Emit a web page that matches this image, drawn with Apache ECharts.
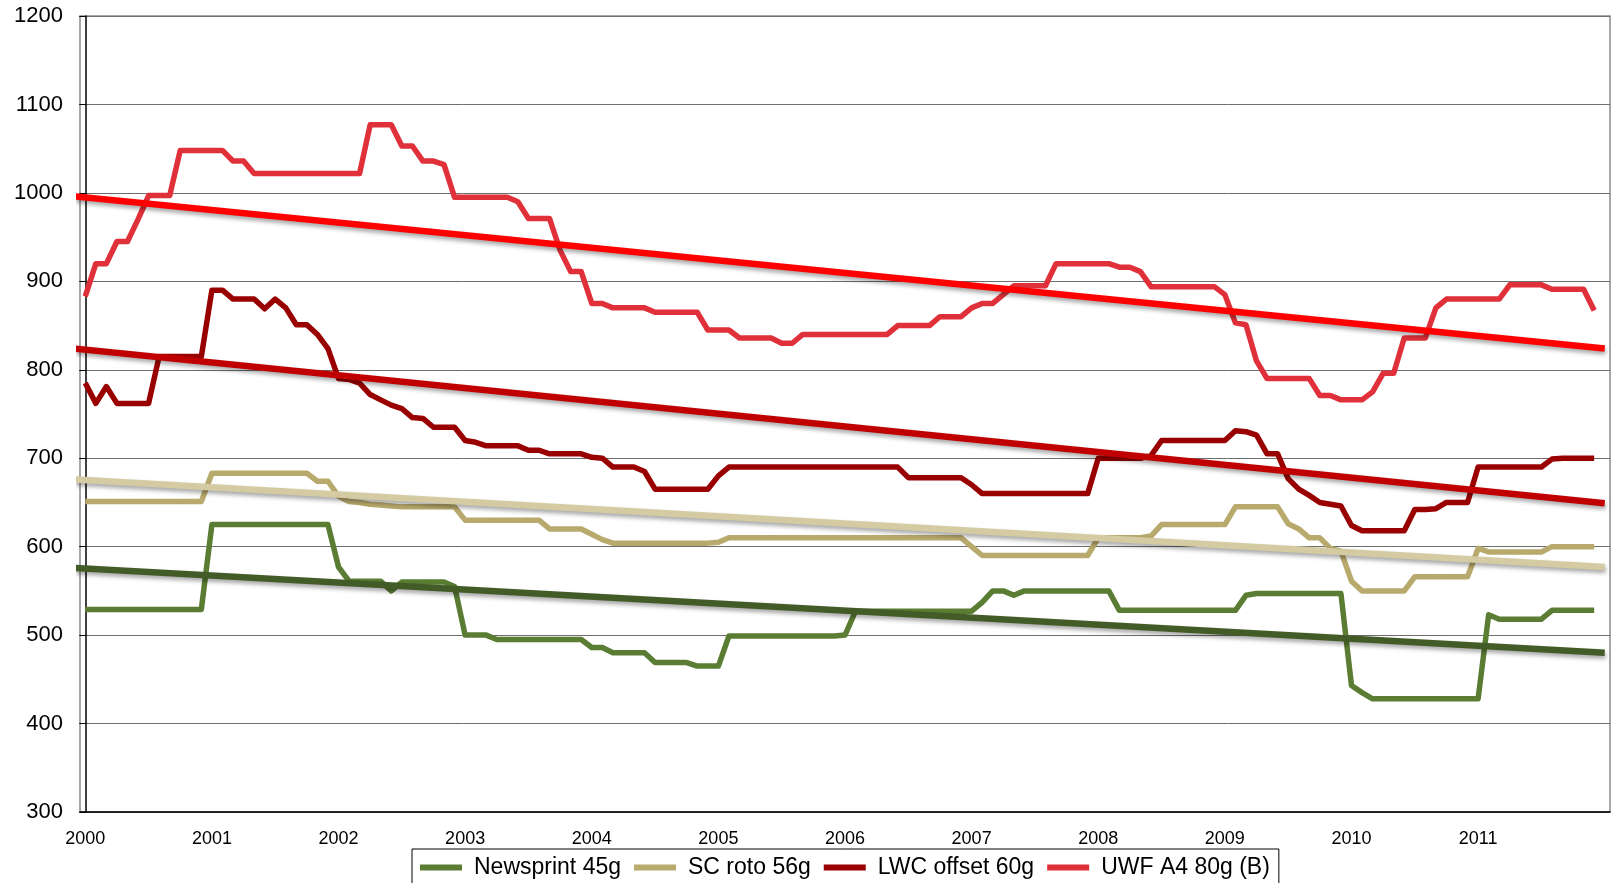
<!DOCTYPE html>
<html>
<head>
<meta charset="utf-8">
<title>Paper prices</title>
<script src="https://cdn.jsdelivr.net/npm/echarts/dist/echarts.min.js"></script>
<style>
    * {
        margin: 0;
        padding: 0;
    }
    html, body {
        background: #fff;
    }
    #main {
        width: 1616px;
        height: 883px;
    }
</style>
</head>
<body>
<!-- container with a size for echarts -->
<div id="main"></div>
<script>
// tick labels: one per year, 12 monthly points each
var years = ['2000', '2001', '2002', '2003', '2004', '2005', '2006', '2007', '2008', '2009', '2010', '2011'];
var months = ['01', '02', '03', '04', '05', '06', '07', '08', '09', '10', '11', '12'];

var seriesNames = ['Newsprint 45g', 'SC roto 56g', 'LWC offset 60g', 'UWF A4 80g (B)'];

// monthly values
var newsprint = [
    529, 529, 529, 529, 529, 529, 529, 529, 529, 529,
    529, 529, 625, 625, 625, 625, 625, 625, 625, 625,
    625, 625, 625, 625, 577, 561, 561, 561, 561, 550,
    560, 560, 560, 560, 560, 555, 500, 500, 500, 495,
    495, 495, 495, 495, 495, 495, 495, 495, 486, 486,
    480, 480, 480, 480, 469, 469, 469, 469, 465, 465,
    465, 499, 499, 499, 499, 499, 499, 499, 499, 499,
    499, 499, 500, 527, 527, 527, 527, 527, 527, 527,
    527, 527, 527, 527, 527, 537, 550, 550, 545, 550,
    550, 550, 550, 550, 550, 550, 550, 550, 528, 528,
    528, 528, 528, 528, 528, 528, 528, 528, 528, 528,
    545, 547, 547, 547, 547, 547, 547, 547, 547, 547,
    443, 435, 428, 428, 428, 428, 428, 428, 428, 428,
    428, 428, 428, 523, 518, 518, 518, 518, 518, 528,
    528, 528, 528, 528
];
var scRoto = [
    651, 651, 651, 651, 651, 651, 651, 651, 651, 651,
    651, 651, 683, 683, 683, 683, 683, 683, 683, 683,
    683, 683, 674, 674, 657, 651, 650, 648, 647, 646,
    645, 645, 645, 645, 645, 645, 630, 630, 630, 630,
    630, 630, 630, 630, 620, 620, 620, 620, 614, 608,
    604, 604, 604, 604, 604, 604, 604, 604, 604, 604,
    605, 610, 610, 610, 610, 610, 610, 610, 610, 610,
    610, 610, 610, 610, 610, 610, 610, 610, 610, 610,
    610, 610, 610, 610, 600, 590, 590, 590, 590, 590,
    590, 590, 590, 590, 590, 590, 610, 610, 610, 610,
    610, 612, 625, 625, 625, 625, 625, 625, 625, 645,
    645, 645, 645, 645, 626, 620, 610, 610, 598, 595,
    561, 550, 550, 550, 550, 550, 566, 566, 566, 566,
    566, 566, 598, 594, 594, 594, 594, 594, 594, 600,
    600, 600, 600, 600
];
var lwcOffset = [
    785, 762, 781, 762, 762, 762, 762, 815, 815, 815,
    815, 815, 890, 890, 880, 880, 880, 869, 880, 870,
    851, 851, 840, 824, 790, 789, 785, 772, 766, 760,
    756, 746, 745, 735, 735, 735, 720, 718, 714, 714,
    714, 714, 709, 709, 705, 705, 705, 705, 701, 700,
    690, 690, 690, 685, 665, 665, 665, 665, 665, 665,
    680, 690, 690, 690, 690, 690, 690, 690, 690, 690,
    690, 690, 690, 690, 690, 690, 690, 690, 678, 678,
    678, 678, 678, 678, 670, 660, 660, 660, 660, 660,
    660, 660, 660, 660, 660, 660, 700, 700, 700, 700,
    700, 703, 720, 720, 720, 720, 720, 720, 720, 731,
    730, 726, 705, 705, 677, 665, 658, 650, 648, 646,
    624, 618, 618, 618, 618, 618, 642, 642, 643, 650,
    650, 650, 690, 690, 690, 690, 690, 690, 690, 699,
    700, 700, 700, 700
];
var uwfA4 = [
    883, 920, 920, 945, 945, 970, 997, 997, 997, 1048,
    1048, 1048, 1048, 1048, 1036, 1036, 1022, 1022, 1022, 1022,
    1022, 1022, 1022, 1022, 1022, 1022, 1022, 1077, 1077, 1077,
    1053, 1053, 1036, 1036, 1032, 995, 995, 995, 995, 995,
    995, 990, 971, 971, 971, 935, 911, 911, 875, 875,
    870, 870, 870, 870, 865, 865, 865, 865, 865, 845,
    845, 845, 836, 836, 836, 836, 830, 830, 840, 840,
    840, 840, 840, 840, 840, 840, 840, 850, 850, 850,
    850, 860, 860, 860, 870, 875, 875, 885, 895, 895,
    895, 895, 920, 920, 920, 920, 920, 920, 916, 916,
    911, 894, 894, 894, 894, 894, 894, 894, 885, 853,
    851, 810, 790, 790, 790, 790, 790, 771, 771, 766,
    766, 766, 775, 796, 796, 836, 836, 836, 870, 880,
    880, 880, 880, 880, 880, 896, 896, 896, 896, 891,
    891, 891, 891, 867
];

// linear trend lines, value at start and end
var trendStart = [576, 676, 824, 996];
var trendEnd = [480, 577, 649, 824];

var lineColors = ['#5A7D33', '#B8A96C', '#990000', '#E0313A'];
var trendColors = ['#435C27', '#D4CBA3', '#C00000', '#FF0000'];

function getOption() {
    var categories = [];
    years.forEach(function (y) {
        months.forEach(function (m) {
            categories.push(y + '-' + m);
        });
    });
    categories.push('2012-01'); // empty slot after the last month

    var lastIdx = categories.length - 1;
    var allData = [newsprint, scRoto, lwcOffset, uwfA4];
    var series = [];

    allData.forEach(function (d, k) {
        series.push({
            name: seriesNames[k],
            type: 'line',
            data: d,
            showSymbol: false,
            symbol: 'none',
            z: 2,
            lineStyle: {
                color: lineColors[k],
                width: 5.5,
                join: 'round'
            },
            itemStyle: { color: lineColors[k] }
        });
    });
    allData.forEach(function (d, k) {
        series.push({
            name: seriesNames[k] + ' trend',
            type: 'line',
            xAxisIndex: 1,
            data: [[-1, trendStart[k]], [lastIdx, trendEnd[k]]],
            showSymbol: false,
            symbol: 'none',
            clip: false,
            z: 3,
            lineStyle: {
                color: trendColors[k],
                width: 6.5,
                shadowColor: 'rgba(0,0,0,0.35)',
                shadowBlur: 4,
                shadowOffsetX: 1,
                shadowOffsetY: 3
            }
        });
    });

    return {
        animation: false,
        backgroundColor: '#fff',
        textStyle: {
            fontFamily: 'Liberation Sans, Arial, sans-serif'
        },
        grid: {
            left: 80,
            right: 6,
            top: 16,
            bottom: 71,
            show: true,
            borderColor: '#8a8a8a',
            borderWidth: 1.5,
            backgroundColor: '#fff'
        },
        legend: {
            data: seriesNames,
            left: 412,
            top: 849,
            icon: 'rect',
            itemWidth: 42,
            itemHeight: 6,
            itemGap: 13,
            padding: [7, 9, 10, 8],
            borderColor: '#000',
            borderWidth: 1,
            backgroundColor: '#fff',
            textStyle: {
                color: '#000',
                fontSize: 23,
                padding: [0, 0, 0, 7],
                fontFamily: 'Liberation Sans, Arial, sans-serif'
            }
        },
        xAxis: [{
            type: 'category',
            boundaryGap: true,
            data: categories,
            axisLine: {
                lineStyle: { color: '#000', width: 1.5 }
            },
            axisTick: {
                length: 6,
                interval: function (idx) { return idx % 12 === 1; },
                lineStyle: { color: '#000' }
            },
            axisLabel: {
                interval: function (idx) { return idx % 12 === 0 && idx < lastIdx; },
                formatter: function (v) { return v.slice(0, 4); },
                color: '#000',
                fontSize: 18,
                margin: 18
            },
            splitLine: { show: false }
        }, {
            type: 'value',
            min: -0.5,
            max: lastIdx + 0.5,
            show: false
        }],
        yAxis: {
            type: 'value',
            min: 300,
            max: 1200,
            interval: 100,
            axisLine: {
                show: true,
                lineStyle: { color: '#000', width: 1.5 }
            },
            axisTick: {
                show: true,
                length: 6,
                lineStyle: { color: '#000' }
            },
            axisLabel: {
                color: '#000',
                fontSize: 22,
                margin: 17,
                formatter: function (v) { return String(v); }
            },
            splitLine: {
                lineStyle: { color: '#6e6e6e', width: 1 }
            }
        },
        series: series
    };
}

var chart = echarts.init(document.getElementById('main'));
chart.setOption(getOption());
</script>
</body>
</html>
